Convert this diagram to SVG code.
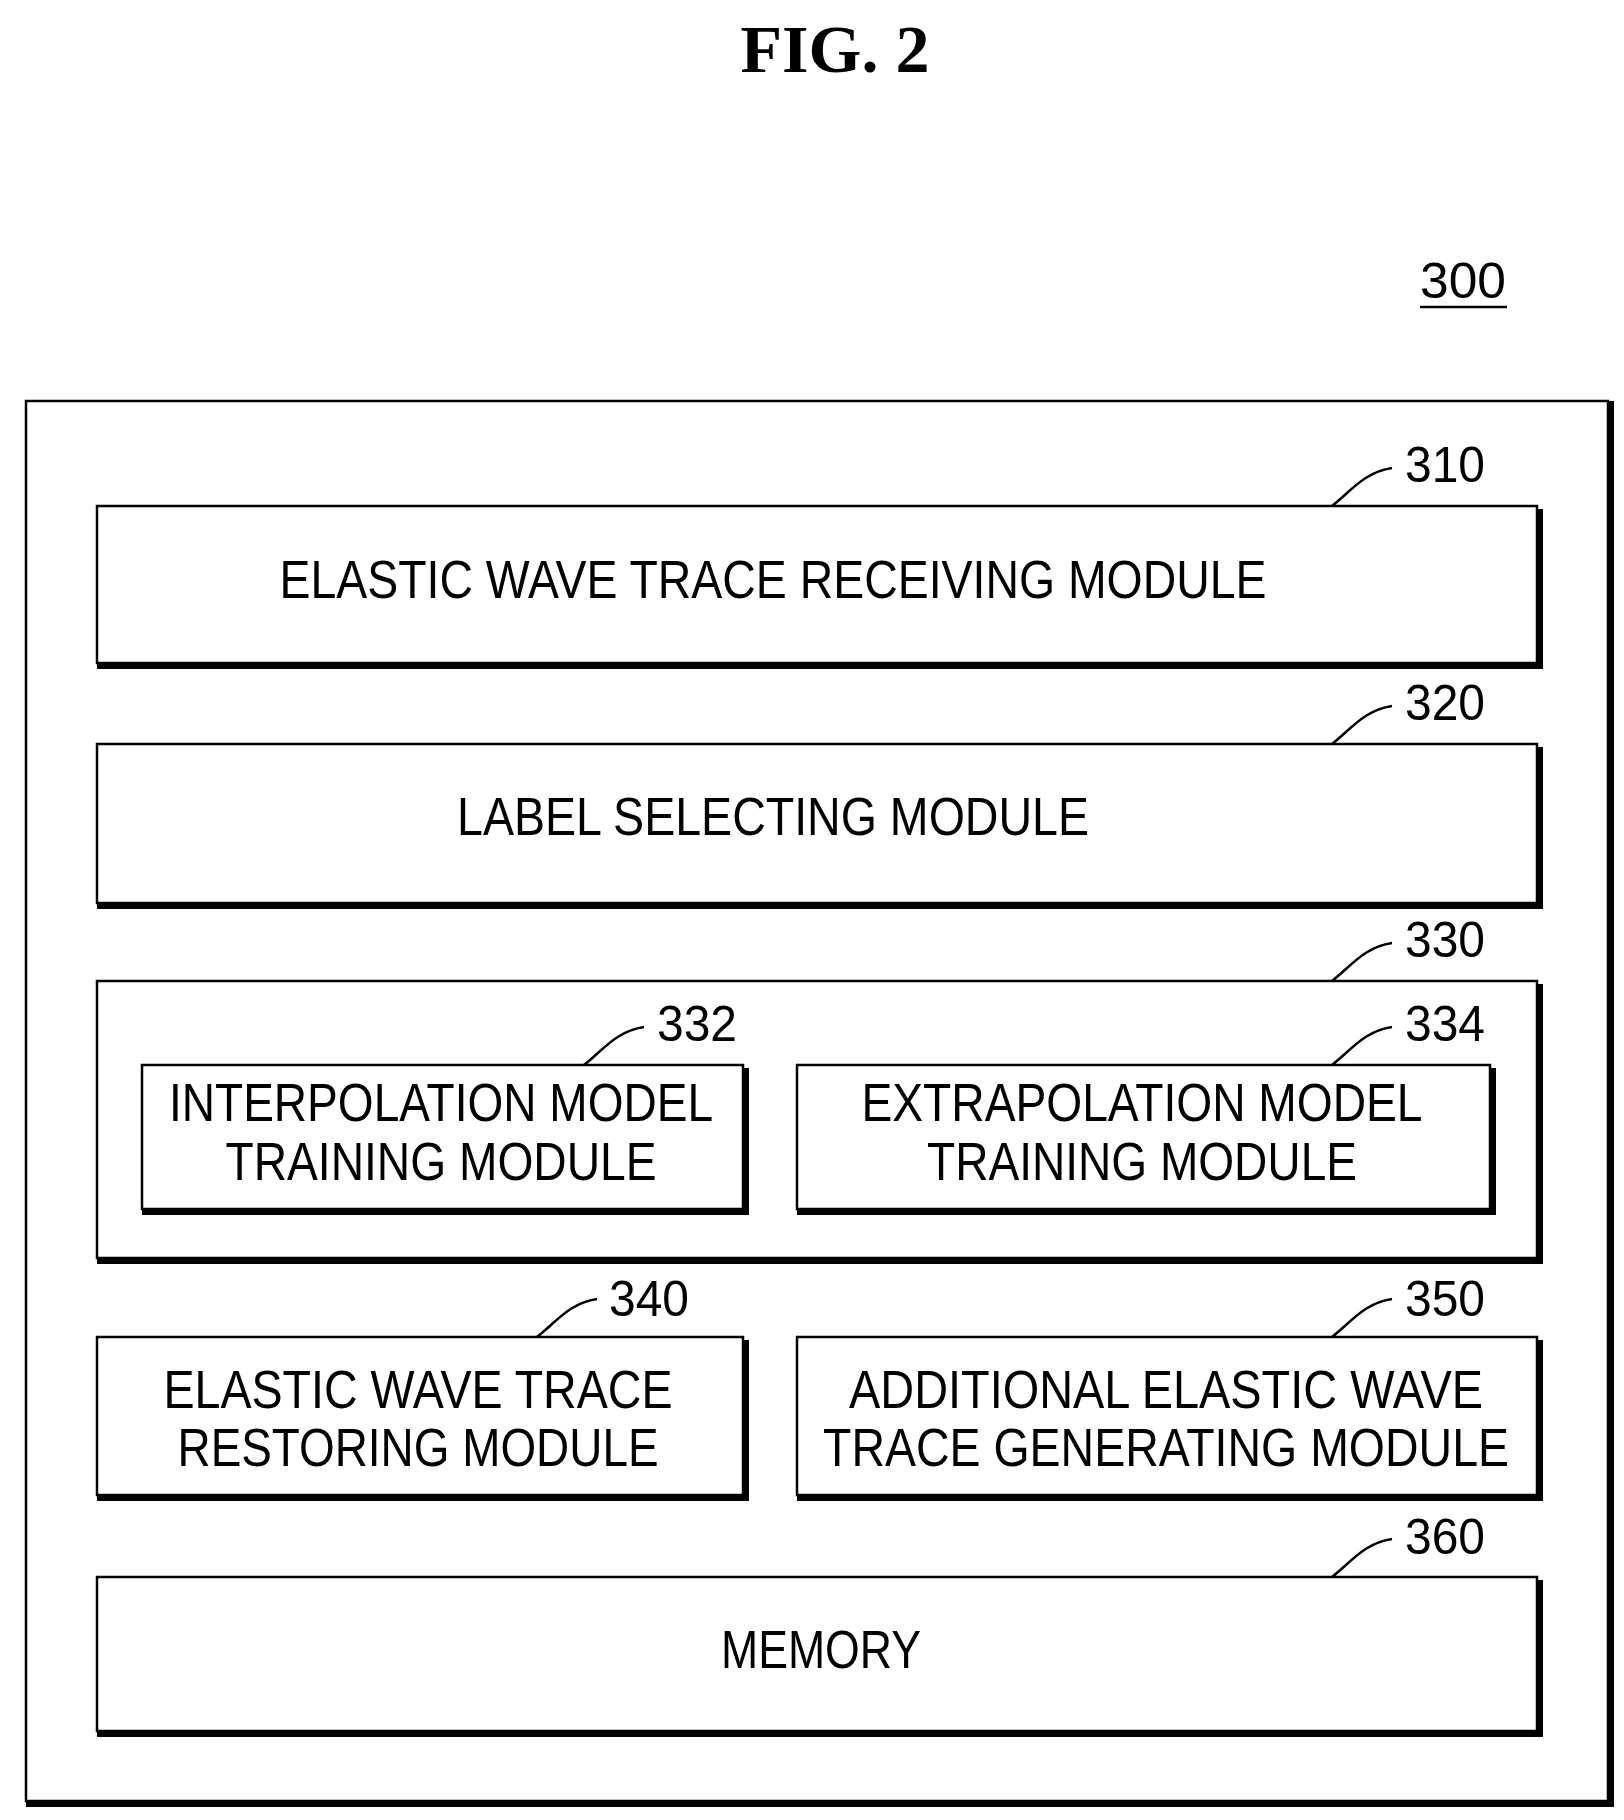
<svg xmlns="http://www.w3.org/2000/svg" width="1624" height="1820" viewBox="0 0 1624 1820">
<style>
.b{fill:#fff;stroke:#000;stroke-width:2.5}
.s{fill:none;stroke:#000;stroke-width:6}
.t{font-family:"Liberation Sans",Arial,sans-serif;font-size:54px;text-anchor:middle;fill:#000}
.n{font-family:"Liberation Sans",Arial,sans-serif;font-size:50px;fill:#000}
.l{fill:none;stroke:#000;stroke-width:2.5}
</style>
<rect width="1624" height="1820" fill="#fff"/>
<text x="835" y="72" text-anchor="middle" font-family="Liberation Serif,serif" font-weight="bold" font-size="68">FIG.  2</text>
<g id="n300"><text class="n" x="1420" y="298" textLength="86" lengthAdjust="spacingAndGlyphs">300</text><line x1="1420" y1="307" x2="1507" y2="307" stroke="#000" stroke-width="2.5"/></g>
<g id="outer"><rect class="b" x="26" y="401" width="1582" height="1400"/><polyline class="s" points="1611,401 1611,1804 26,1804"/></g>
<g id="n310"><rect class="b" x="97" y="506" width="1440" height="157"/><polyline class="s" points="1540,509 1540,666 97,666"/><text class="t" x="773" y="598" textLength="987" lengthAdjust="spacingAndGlyphs">ELASTIC WAVE TRACE RECEIVING MODULE</text><text class="n" x="1405" y="482" textLength="80" lengthAdjust="spacingAndGlyphs">310</text></g>
<g id="n320"><rect class="b" x="97" y="744" width="1440" height="159"/><polyline class="s" points="1540,747 1540,906 97,906"/><text class="t" x="773" y="835" textLength="632" lengthAdjust="spacingAndGlyphs">LABEL SELECTING MODULE</text><text class="n" x="1405" y="720" textLength="80" lengthAdjust="spacingAndGlyphs">320</text></g>
<g id="n330"><rect class="b" x="97" y="981" width="1440" height="277"/><polyline class="s" points="1540,984 1540,1261 97,1261"/><text class="n" x="1405" y="957" textLength="80" lengthAdjust="spacingAndGlyphs">330</text></g>
<g id="n332"><rect class="b" x="142" y="1065" width="601" height="144"/><polyline class="s" points="746,1068 746,1212 142,1212"/><text class="t" x="441" y="1121" textLength="544" lengthAdjust="spacingAndGlyphs">INTERPOLATION MODEL</text><text class="t" x="441" y="1180" textLength="431" lengthAdjust="spacingAndGlyphs">TRAINING MODULE</text><text class="n" x="657" y="1041" textLength="80" lengthAdjust="spacingAndGlyphs">332</text></g>
<g id="n334"><rect class="b" x="797" y="1065" width="693" height="144"/><polyline class="s" points="1493,1068 1493,1212 797,1212"/><text class="t" x="1142" y="1121" textLength="561" lengthAdjust="spacingAndGlyphs">EXTRAPOLATION MODEL</text><text class="t" x="1142" y="1180" textLength="430" lengthAdjust="spacingAndGlyphs">TRAINING MODULE</text><text class="n" x="1405" y="1041" textLength="80" lengthAdjust="spacingAndGlyphs">334</text></g>
<g id="n340"><rect class="b" x="97" y="1337" width="646" height="158"/><polyline class="s" points="746,1340 746,1498 97,1498"/><text class="t" x="418" y="1408" textLength="509" lengthAdjust="spacingAndGlyphs">ELASTIC WAVE TRACE</text><text class="t" x="418" y="1466" textLength="481" lengthAdjust="spacingAndGlyphs">RESTORING MODULE</text><text class="n" x="609" y="1316" textLength="80" lengthAdjust="spacingAndGlyphs">340</text></g>
<g id="n350"><rect class="b" x="797" y="1337" width="740" height="158"/><polyline class="s" points="1540,1340 1540,1498 797,1498"/><text class="t" x="1166" y="1408" textLength="634" lengthAdjust="spacingAndGlyphs">ADDITIONAL ELASTIC WAVE</text><text class="t" x="1166" y="1466" textLength="686" lengthAdjust="spacingAndGlyphs">TRACE GENERATING MODULE</text><text class="n" x="1405" y="1316" textLength="80" lengthAdjust="spacingAndGlyphs">350</text></g>
<g id="n360"><rect class="b" x="97" y="1577" width="1440" height="154"/><polyline class="s" points="1540,1580 1540,1734 97,1734"/><text class="t" x="821" y="1668" textLength="200" lengthAdjust="spacingAndGlyphs">MEMORY</text><text class="n" x="1405" y="1554" textLength="80" lengthAdjust="spacingAndGlyphs">360</text></g>
<g id="connectors">
<path class="l" d="M1332,506 C1352,490 1365,472 1392,468"/>
<path class="l" d="M1332,744 C1352,728 1365,710 1392,706"/>
<path class="l" d="M1332,981 C1352,965 1365,947 1392,943"/>
<path class="l" d="M584,1065 C604,1049 617,1031 644,1027"/>
<path class="l" d="M1332,1065 C1352,1049 1365,1031 1392,1027"/>
<path class="l" d="M537,1337 C557,1321 570,1303 597,1299"/>
<path class="l" d="M1332,1337 C1352,1321 1365,1303 1392,1299"/>
<path class="l" d="M1332,1577 C1352,1561 1365,1543 1392,1539"/>
</g>
</svg>
